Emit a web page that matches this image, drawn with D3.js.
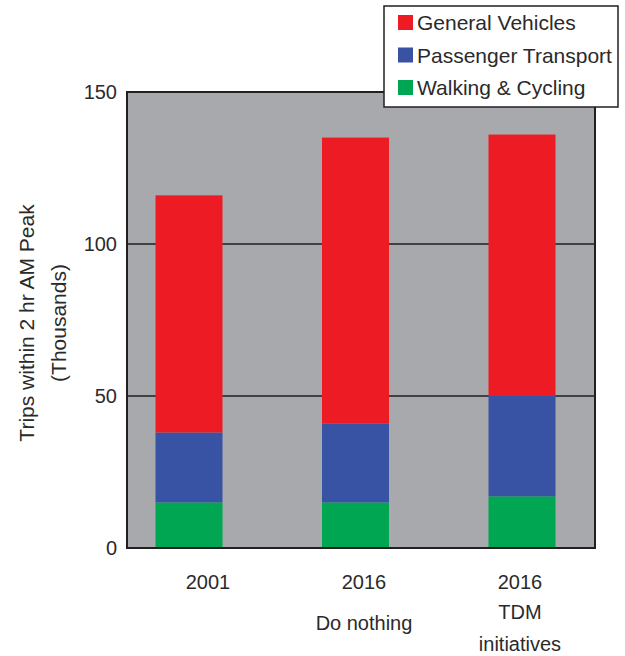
<!DOCTYPE html>
<html>
<head>
<meta charset="utf-8">
<script src="https://cdn.jsdelivr.net/npm/d3@7"></script>
<style>
  body { margin: 0; background: #fff; }
  text { font-family: "Liberation Sans", Arial, sans-serif; fill: #2b2a2b; }
</style>
</head>
<body>
<div id="chart"></div>
<script>
// categories and series (thousands of trips)
var categories = ["2001", "2016 Do nothing", "2016 TDM initiatives"];
var catLabels = [["2001"], ["2016", "Do nothing"], ["2016", "TDM", "initiatives"]];
var walking = [15, 15, 17];
var transport = [23, 26, 33];
var vehicles = [78, 94, 86];
var seriesNames = ["General Vehicles", "Passenger Transport", "Walking & Cycling"];
var yTicks = [0, 50, 100, 150];
var gridValues = [50, 100];

var colors = {
	"General Vehicles": "#ed1c24",
	"Passenger Transport": "#3953a4",
	"Walking & Cycling": "#00a651"
};

var W = 625, H = 656;
var plot = { left: 127, right: 595, top: 92, bottom: 548 };
var fontSize = "21px";

var svg = d3.select("#chart")
	.append("svg")
	.attr("width", W)
	.attr("height", H);

// scales
var y = d3.scaleLinear()
	.domain([0, 150])
	.range([plot.bottom, plot.top]);

// bars are not evenly placed in the original, labels roughly are
var xBar = d3.scalePoint()
	.domain(categories)
	.range([189, 522]);
var barWidth = 67;

var xLabel = d3.scaleBand()
	.domain(categories)
	.range([plot.left, plot.right]);

// table for the stack
var table = categories.map(function (c, i) {
	return {
		cat: c,
		"Walking & Cycling": walking[i],
		"Passenger Transport": transport[i],
		"General Vehicles": vehicles[i]
	};
});
var stack = d3.stack()
	.keys(["Walking & Cycling", "Passenger Transport", "General Vehicles"]);
var layers = stack(table);

// plot background
svg.append("rect")
	.attr("x", plot.left)
	.attr("y", plot.top)
	.attr("width", plot.right - plot.left)
	.attr("height", plot.bottom - plot.top)
	.attr("fill", "#a7a9ac");

// gridlines
svg.selectAll(".grid")
	.data(gridValues)
	.enter()
	.append("line")
	.attr("x1", plot.left)
	.attr("x2", plot.right)
	.attr("y1", function (d) { return y(d); })
	.attr("y2", function (d) { return y(d); })
	.attr("stroke", "#231f20")
	.attr("stroke-width", 1.6);

// stacked bars
svg.selectAll(".layer")
	.data(layers)
	.enter()
	.append("g")
	.attr("fill", function (d) { return colors[d.key]; })
	.selectAll("rect")
	.data(function (d) { return d; })
	.enter()
	.append("rect")
	.attr("x", function (d) { return xBar(d.data.cat) - barWidth / 2; })
	.attr("y", function (d) { return y(d[1]); })
	.attr("width", barWidth)
	.attr("height", function (d) { return y(d[0]) - y(d[1]); });

// plot frame
svg.append("rect")
	.attr("x", plot.left)
	.attr("y", plot.top)
	.attr("width", plot.right - plot.left)
	.attr("height", plot.bottom - plot.top)
	.attr("fill", "none")
	.attr("stroke", "#231f20")
	.attr("stroke-width", 2);

// y axis
var yAxis = svg.append("g")
	.attr("transform", "translate(" + (plot.left - 10) + ",0)")
	.call(d3.axisLeft(y).tickValues(yTicks).tickSize(0).tickPadding(0));
yAxis.select(".domain").remove();
yAxis.selectAll("text")
	.style("font-size", "20px")
	.style("font-family", "Liberation Sans, Arial, sans-serif")
	.attr("fill", "#2b2a2b");

// y axis title
var yTitle = svg.append("text")
	.attr("transform", "translate(0,323) rotate(-90)")
	.attr("text-anchor", "middle")
	.style("font-size", fontSize);
yTitle.append("tspan").attr("x", 0).attr("y", 34).text("Trips within 2 hr AM Peak");
yTitle.append("tspan").attr("x", 0).attr("y", 66).text("(Thousands)");

// x category labels
var lineY = [589, 619, 651];
var lineYDo = [589, 630];
svg.selectAll(".xlab")
	.data(categories)
	.enter()
	.append("text")
	.attr("text-anchor", "middle")
	.style("font-size", "20px")
	.each(function (c, i) {
		var lines = catLabels[i];
		var ys = lines.length === 2 ? lineYDo : lineY;
		var t = d3.select(this);
		lines.forEach(function (l, j) {
			t.append("tspan")
				.attr("x", xLabel(c) + xLabel.bandwidth() / 2 + 3)
				.attr("y", ys[j])
				.text(l);
		});
	});

// legend
var legend = svg.append("g");
legend.append("rect")
	.attr("x", 384)
	.attr("y", 6)
	.attr("width", 234)
	.attr("height", 101)
	.attr("fill", "#fff")
	.attr("stroke", "#231f20")
	.attr("stroke-width", 1.5);

var items = legend.selectAll(".item")
	.data(seriesNames)
	.enter()
	.append("g")
	.attr("transform", function (d, i) { return "translate(398," + (15 + i * 32.5) + ")"; });
items.append("rect")
	.attr("width", 15)
	.attr("height", 15)
	.attr("fill", function (d) { return colors[d]; });
items.append("text")
	.attr("x", 19)
	.attr("y", 15)
	.style("font-size", fontSize)
	.text(function (d) { return d; });
</script>
</body>
</html>
